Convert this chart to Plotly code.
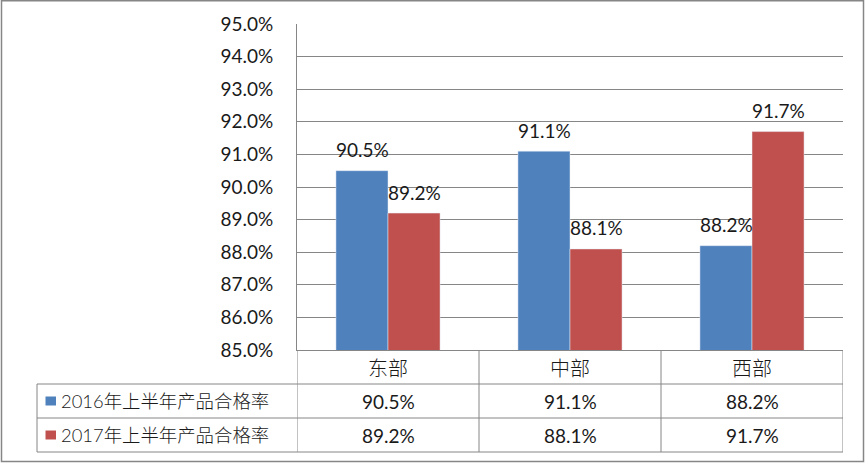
import plotly.graph_objects as go

# data
regions = ["东部", "中部", "西部"]
series_names = ["2016年上半年产品合格率", "2017年上半年产品合格率"]
rate_2016 = [0.905, 0.911, 0.882]
rate_2017 = [0.892, 0.881, 0.917]

BLUE = "#4F81BD"
RED = "#C0504D"
GRID = "#868686"
TXT = "#1a1a1a"
LATIN = "Lato, Noto Sans CJK SC"
CJK = "Noto Sans CJK SC"

W, H = 867, 463
L, R, T, B = 297, 843, 24, 350   # plot area in pixels
pw, ph = R - L, B - T


def px(x):
    return (x - L) / pw


def py(y):
    return (B - y) / ph


fig = go.Figure()
fig.add_trace(go.Bar(x=regions, y=rate_2016, name=series_names[0], marker_color=BLUE))
fig.add_trace(go.Bar(x=regions, y=rate_2017, name=series_names[1], marker_color=RED))

ann = []
shapes = []

# data labels over the bars
for vals, shift in ((rate_2016, -26), (rate_2017, 26)):
    for r, v in zip(regions, vals):
        ann.append(dict(x=r, y=v, xref="x", yref="y", text=f"{v:.1%}", showarrow=False,
                        xshift=shift, yshift=21, font=dict(family=LATIN, size=19, color=TXT)))

# data table below the axis
row_top, row_h = B, 34
for i, r in enumerate(regions):
    ann.append(dict(x=r, y=py(row_top + row_h / 2), xref="x", yref="paper", text=r, showarrow=False,
                    yanchor="middle", font=dict(family=CJK, size=20, color=TXT, weight=300)))
    for k, vals in enumerate((rate_2016, rate_2017)):
        ann.append(dict(x=r, y=py(row_top + row_h * (k + 1.5)), xref="x", yref="paper",
                        text=f"{vals[i]:.1%}", showarrow=False, yanchor="middle",
                        font=dict(family=LATIN, size=19, color=TXT)))

for k, (name, col) in enumerate(zip(series_names, (BLUE, RED))):
    yc = row_top + row_h * (k + 1.5)
    shapes.append(dict(type="rect", xref="paper", yref="paper", x0=px(45.5), x1=px(56),
                       y0=py(yc - 4.5), y1=py(yc + 4.5), fillcolor=col, line_width=0))
    ann.append(dict(x=px(59), y=py(yc), xref="paper", yref="paper", text=name, showarrow=False,
                    xanchor="left", yanchor="middle",
                    font=dict(family=LATIN, size=18.4, color=TXT, weight=300)))

# table grid
for k in range(1, 4):
    yy = py(row_top + row_h * k)
    shapes.append(dict(type="line", xref="paper", yref="paper", x0=px(37), x1=1, y0=yy, y1=yy,
                       line=dict(color=GRID, width=1)))
shapes.append(dict(type="line", xref="paper", yref="paper", x0=px(37), x1=px(37),
                   y0=py(row_top + row_h), y1=py(row_top + row_h * 3), line=dict(color=GRID, width=1)))
for xb in [-0.5, 0.5, 1.5, 2.5]:
    shapes.append(dict(type="line", xref="x", yref="paper", x0=xb, x1=xb, y0=0,
                       y1=py(row_top + row_h * 3), line=dict(color=GRID, width=1)))

# chart frame
shapes.append(dict(type="rect", xref="paper", yref="paper", x0=px(1.5), x1=px(863.5),
                   y0=py(461.5), y1=py(0.8), line=dict(color=GRID, width=1.5)))

fig.update_layout(
    width=W, height=H,
    margin=dict(l=L, r=W - R, t=T, b=H - B, pad=0),
    paper_bgcolor="white", plot_bgcolor="white",
    barmode="group", bargap=0.428, bargroupgap=0,
    showlegend=False,
    annotations=ann, shapes=shapes,
    font=dict(family=LATIN, size=19, color=TXT),
)
fig.update_xaxes(showticklabels=False, ticks="", showgrid=False, showline=True,
                 linecolor=GRID, linewidth=1, range=[-0.5, 2.5], fixedrange=True)
fig.update_yaxes(range=[0.85, 0.95], dtick=0.01, tick0=0.85, tickformat=".1%",
                 showgrid=True, gridcolor=GRID, gridwidth=1, showline=True, linecolor=GRID,
                 linewidth=1, ticks="", ticklabelstandoff=19, zeroline=False,
                 tickfont=dict(family=LATIN, size=19, color=TXT))

# the page body has a default 8px margin; drop it so the figure fills the window
fig.write_html("out.html", config={"displayModeBar": False},
               post_script="document.body.style.margin='0px';")
